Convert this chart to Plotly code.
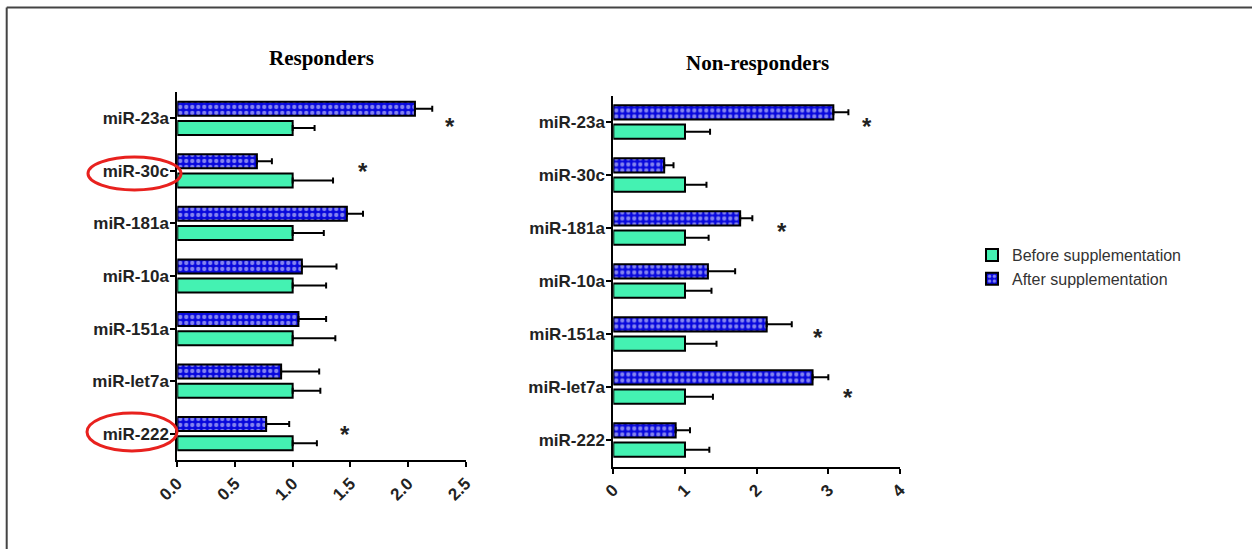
import plotly.graph_objects as go

W, H = 1252, 549

categories = ["miR-23a", "miR-30c", "miR-181a", "miR-10a", "miR-151a", "miR-let7a", "miR-222"]

resp_before = [1.0, 1.0, 1.0, 1.0, 1.0, 1.0, 1.0]
resp_before_err = [0.19, 0.35, 0.27, 0.29, 0.37, 0.24, 0.21]
resp_after = [2.06, 0.69, 1.47, 1.08, 1.05, 0.90, 0.77]
resp_after_err = [0.15, 0.13, 0.14, 0.30, 0.24, 0.33, 0.20]

non_before = [1.0, 1.0, 1.0, 1.0, 1.0, 1.0, 1.0]
non_before_err = [0.35, 0.30, 0.33, 0.37, 0.44, 0.39, 0.34]
non_after = [3.07, 0.71, 1.77, 1.32, 2.14, 2.78, 0.87]
non_after_err = [0.21, 0.13, 0.17, 0.38, 0.35, 0.22, 0.20]

# significance stars: (category, x in data units, vertical offset in category units)
resp_stars = [("miR-23a", 2.36, 0.09), ("miR-30c", 1.61, -0.04), ("miR-222", 1.45, -0.04)]
non_stars = [("miR-23a", 3.54, 0.02), ("miR-181a", 2.35, 0.0), ("miR-151a", 2.86, 0.0),
             ("miR-let7a", 3.28, 0.14)]

titles = ["Responders", "Non-responders"]
legend_names = ["Before supplementation", "After supplementation"]
resp_ticks = [0.0, 0.5, 1.0, 1.5, 2.0, 2.5]
resp_ticktext = ["0.0", "0.5", "1.0", "1.5", "2.0", "2.5"]
non_ticks = [0, 1, 2, 3, 4]

GREEN = "#44F2B2"
BLUE = "#0808DC"

def px_x(x):
    return x / W

def px_y(y):
    return 1 - y / H

fig = go.Figure()

def add_panel(after, after_err, before, before_err, xa, ya, show_legend):
    fig.add_trace(go.Bar(
        y=categories, x=after, orientation="h", name=legend_names[1],
        marker=dict(color=BLUE, line=dict(color="black", width=2),
                    pattern=dict(shape=".", fgcolor="white", bgcolor=BLUE, size=6, solidity=0.4)),
        error_x=dict(type="data", array=after_err, arrayminus=[0] * len(after_err), symmetric=False,
                     color="black", thickness=2, width=3),
        xaxis=xa, yaxis=ya, showlegend=show_legend, legendrank=2,
    ))
    fig.add_trace(go.Bar(
        y=categories, x=before, orientation="h", name=legend_names[0],
        marker=dict(color=GREEN, line=dict(color="black", width=2)),
        error_x=dict(type="data", array=before_err, arrayminus=[0] * len(before_err), symmetric=False,
                     color="black", thickness=2, width=3),
        xaxis=xa, yaxis=ya, showlegend=show_legend, legendrank=1,
    ))

add_panel(resp_after, resp_after_err, resp_before, resp_before_err, "x", "y", True)
add_panel(non_after, non_after_err, non_before, non_before_err, "x2", "y2", False)

tickfont = dict(family="Liberation Sans, Arial, sans-serif", size=17, color="#222", weight="bold")
axis_common = dict(showline=True, linecolor="black", linewidth=2, ticks="outside",
                   tickcolor="black", tickwidth=2, ticklen=5, showgrid=False, zeroline=False,
                   tickfont=tickfont, automargin=False)

fig.update_layout(
    width=W, height=H,
    margin=dict(l=0, r=0, t=0, b=0, autoexpand=False),
    paper_bgcolor="white", plot_bgcolor="white",
    barmode="group", bargap=0.27, bargroupgap=0.27,
    xaxis=dict(domain=[px_x(177.3), px_x(465.7)], range=[0, 2.5], tickvals=resp_ticks,
               ticktext=resp_ticktext, tickangle=-45, anchor="y", **axis_common),
    yaxis=dict(domain=[px_y(460), px_y(92)], autorange="reversed", anchor="x",
               categoryorder="array", categoryarray=categories, ticklabelstandoff=-2, **axis_common),
    xaxis2=dict(domain=[px_x(613.3), px_x(900)], range=[0, 4], tickvals=non_ticks,
                tickangle=-45, anchor="y2", **axis_common),
    yaxis2=dict(domain=[px_y(466.5), px_y(95.5)], autorange="reversed", anchor="x2",
                categoryorder="array", categoryarray=categories, ticklabelstandoff=-2, **axis_common),
    legend=dict(x=px_x(972), y=px_y(267), xanchor="left", yanchor="middle",
                font=dict(family="Liberation Sans, Arial, sans-serif", size=16, color="#333"),
                traceorder="normal", bgcolor="rgba(0,0,0,0)"),
    showlegend=True,
)

# titles
fig.add_annotation(text=titles[0], x=px_x(321), y=px_y(58), xref="paper", yref="paper",
                   xanchor="center", yanchor="middle", showarrow=False,
                   font=dict(family="Liberation Serif, Times New Roman, serif",
                             size=21, color="black", weight="bold"))
fig.add_annotation(text=titles[1], x=px_x(757), y=px_y(63), xref="paper", yref="paper",
                   xanchor="center", yanchor="middle", showarrow=False,
                   font=dict(family="Liberation Serif, Times New Roman, serif",
                             size=21, color="black", weight="bold"))

starfont = dict(family="Liberation Sans, Arial, sans-serif", size=24, color="#222", weight="bold")
for cat, xv, off in resp_stars:
    fig.add_annotation(text="*", x=xv, y=categories.index(cat) + off, xref="x", yref="y",
                       showarrow=False, font=starfont, yshift=-3)
for cat, xv, off in non_stars:
    fig.add_annotation(text="*", x=xv, y=categories.index(cat) + off, xref="x2", yref="y2",
                       showarrow=False, font=starfont, yshift=-3)

# red ellipses highlighting labels
for (x0, y0, x1, y1) in [(88, 157, 181, 190), (87, 413, 177, 451)]:
    fig.add_shape(type="circle", xref="paper", yref="paper",
                  x0=px_x(x0), x1=px_x(x1), y0=px_y(y1), y1=px_y(y0),
                  line=dict(color="#E8211E", width=3))

# outer frame lines (top and left)
fig.add_shape(type="line", xref="paper", yref="paper", x0=px_x(6.7), x1=1, y0=px_y(7.5), y1=px_y(7.5),
              line=dict(color="#444", width=2))
fig.add_shape(type="line", xref="paper", yref="paper", x0=px_x(6.7), x1=px_x(6.7), y0=0, y1=px_y(7.5),
              line=dict(color="#444", width=2))

fig.write_html("out.html", config={"displayModeBar": False},
               post_script="document.body.style.margin='0';document.body.style.overflow='hidden';")
